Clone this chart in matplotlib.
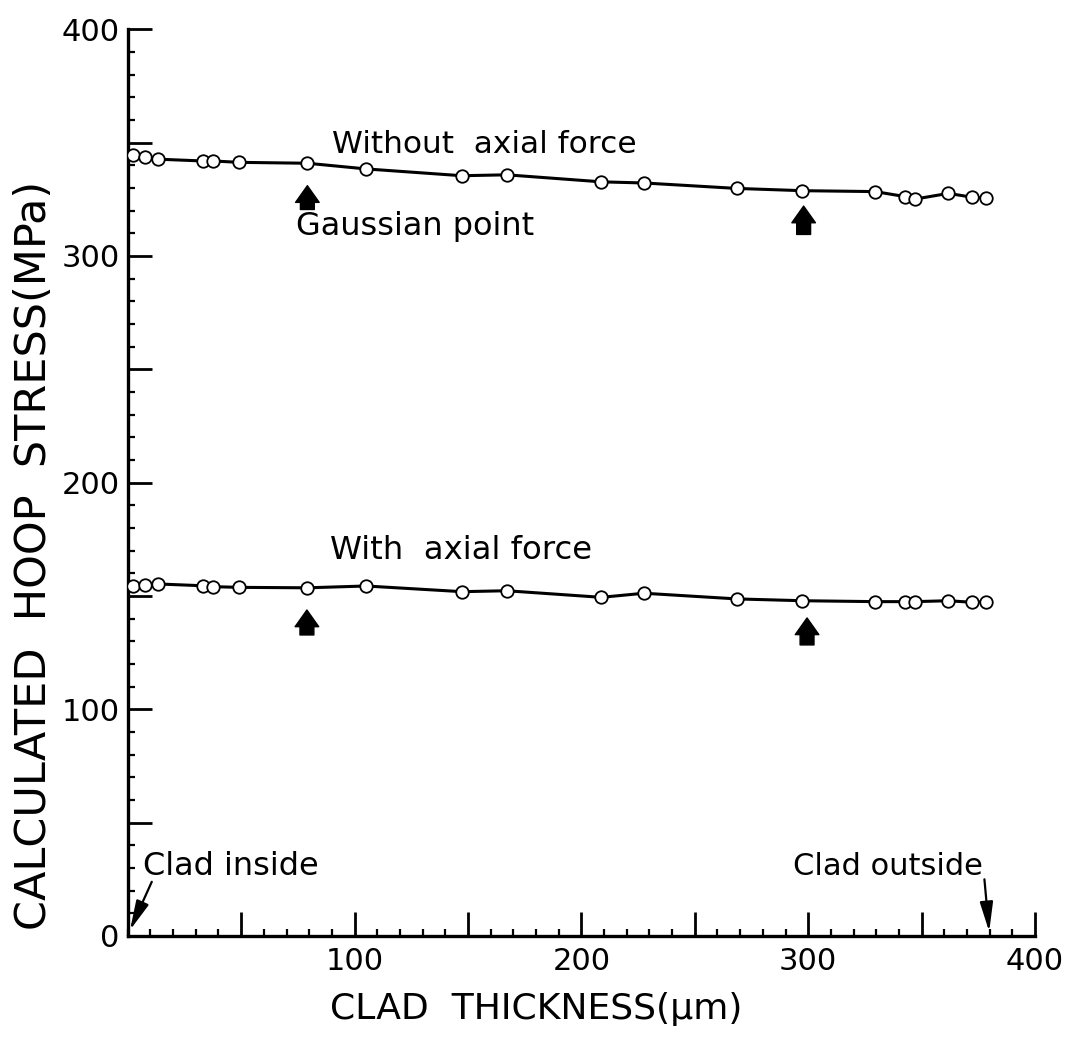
import matplotlib
matplotlib.use("Agg")
import matplotlib.pyplot as plt
from matplotlib.ticker import FixedLocator, MultipleLocator, FuncFormatter

# Clad thickness positions (um) of the evaluated Gaussian points
thickness = [2.5, 7.6, 13.2, 33.3, 37.7, 49.2, 79.2, 105.1, 147.3, 167.1,
             208.8, 227.6, 268.5, 297.4, 329.5, 342.7, 347.1, 361.8, 372.4, 378.3]

# Calculated hoop stress (MPa)
stress_without_axial = [344.5, 343.5, 342.7, 341.9, 341.9, 341.3, 340.9, 338.4, 335.4, 335.8,
                        332.7, 332.2, 329.8, 328.8, 328.4, 326.2, 325.1, 327.6, 325.9, 325.5]
stress_with_axial = [154.4, 154.8, 155.3, 154.5, 154.1, 153.8, 153.6, 154.4, 151.9, 152.3,
                     149.4, 151.2, 148.7, 147.9, 147.5, 147.5, 147.5, 147.9, 147.2, 147.5]

# Gaussian point markers: (x, arrow tip, arrow base)
gauss_arrows = [(79.2, 331.0, 320.5), (298.0, 322.0, 309.5),
                (79.0, 143.8, 132.8), (299.5, 140.3, 128.4)]

plt.rcParams["font.family"] = ["DejaVu Sans"]

fig = plt.figure(figsize=(10.68, 10.5), dpi=100)
ax = fig.add_axes([0.1196, 0.1086, 0.8495, 0.8635])

line_kw = dict(color="black", lw=2.2, marker="o", ms=9, mfc="white",
               mec="black", mew=1.3, zorder=3)
ax.plot(thickness, stress_without_axial, **line_kw)
ax.plot(thickness, stress_with_axial, **line_kw)

ax.set_xlim(0, 400)
ax.set_ylim(0, 400)

for side in ("top", "right"):
    ax.spines[side].set_visible(False)
for side in ("left", "bottom"):
    ax.spines[side].set_linewidth(2.4)

ax.xaxis.set_major_locator(FixedLocator(list(range(50, 401, 50))))
ax.yaxis.set_major_locator(FixedLocator(list(range(0, 401, 50))))
ax.xaxis.set_minor_locator(MultipleLocator(10))
ax.yaxis.set_minor_locator(MultipleLocator(10))
hundreds = FuncFormatter(lambda v, p: f"{int(v)}" if int(v) % 100 == 0 else "")
ax.xaxis.set_major_formatter(hundreds)
ax.yaxis.set_major_formatter(hundreds)

ax.tick_params(which="major", direction="in", length=17, width=2.0, labelsize=22)
ax.tick_params(which="minor", direction="in", length=5, width=1.6)
ax.tick_params(axis="x", which="major", pad=8)
ax.tick_params(axis="y", which="major", pad=6)

ax.set_xlabel("CLAD  THICKNESS(\u03bcm)", fontsize=26)
ax.xaxis.set_label_coords(0.45, -0.062)
ax.set_ylabel("CALCULATED  HOOP  STRESS(MPa)", fontsize=31)
ax.yaxis.set_label_coords(-0.080, 0.42)

# Curve labels
ax.text(90, 345.5, "Without  axial force", fontsize=22.5, ha="left", va="baseline")
ax.text(74.4, 309.2, "Gaussian point", fontsize=23, ha="left", va="baseline")
ax.text(89.2, 166.5, "With  axial force", fontsize=23.3, ha="left", va="baseline")

# Gaussian point arrows
for x, tip, base in gauss_arrows:
    ax.annotate("", xy=(x, tip), xytext=(x, base),
                arrowprops=dict(arrowstyle="simple,head_length=0.6,head_width=0.85,tail_width=0.5",
                                fc="black", ec="black", mutation_scale=20,
                                shrinkA=0, shrinkB=0))

# Clad surface annotations
ax.text(6.9, 26.9, "Clad inside", fontsize=23, ha="left", va="baseline")
ax.text(377.0, 26.9, "Clad outside", fontsize=22, ha="right", va="baseline")
clad_arrow = dict(arrowstyle="-|>,head_length=0.9,head_width=0.2",
                  color="black", lw=1.6, mutation_scale=20, shrinkA=0, shrinkB=0)
ax.annotate("", xy=(1.0, 2.6), xytext=(10.6, 23.9), arrowprops=clad_arrow)
ax.annotate("", xy=(379.8, 1.9), xytext=(377.7, 25.0), arrowprops=clad_arrow)

fig.savefig("out.png", dpi=100)
